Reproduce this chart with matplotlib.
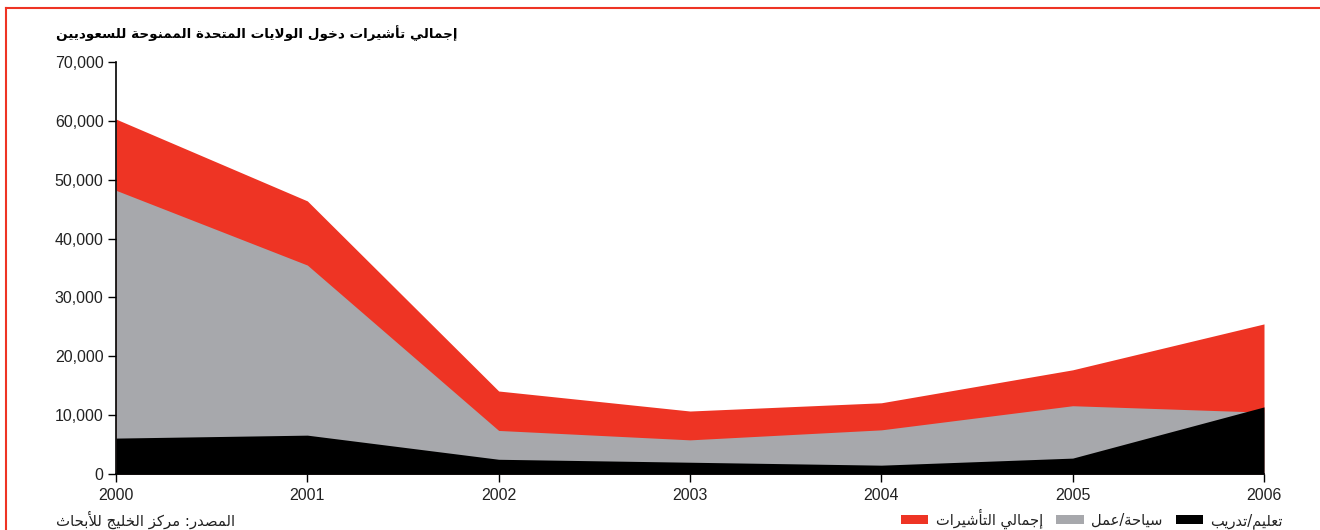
import matplotlib
matplotlib.use('Agg')
import matplotlib.pyplot as plt
from matplotlib.lines import Line2D
from matplotlib.ticker import FuncFormatter

# Datos
years = [2000, 2001, 2002, 2003, 2004, 2005, 2006]
total_visas = [60300, 46400, 14100, 10700, 12100, 17700, 25500]
tourism_work = [48200, 35500, 7400, 5800, 7500, 11600, 10500]
education_training = [6100, 6600, 2500, 2000, 1500, 2700, 11400]

title_txt = 'إجمالي تأشيرات دخول الولايات المتحدة الممنوحة للسعوديين'
source_txt = 'المصدر: مركز الخليج للأبحاث'
legend_labels = ['إجمالي التأشيرات', 'سياحة/عمل', 'تعليم/تدريب']

RED = '#EE3424'
GRAY = '#A7A8AC'
BLACK = '#000000'

# matplotlib no hace shaping del arabe: formas de presentacion a mano
# (aislada, final, inicial, medial); None = no une hacia la izquierda
FORMS = {
    '\u0621': (0xFE80, None, None, None),
    '\u0622': (0xFE81, 0xFE82, None, None),
    '\u0623': (0xFE83, 0xFE84, None, None),
    '\u0624': (0xFE85, 0xFE86, None, None),
    '\u0625': (0xFE87, 0xFE88, None, None),
    '\u0627': (0xFE8D, 0xFE8E, None, None),
    '\u0629': (0xFE93, 0xFE94, None, None),
    '\u062F': (0xFEA9, 0xFEAA, None, None),
    '\u0630': (0xFEAB, 0xFEAC, None, None),
    '\u0631': (0xFEAD, 0xFEAE, None, None),
    '\u0632': (0xFEAF, 0xFEB0, None, None),
    '\u0648': (0xFEED, 0xFEEE, None, None),
    '\u0649': (0xFEEF, 0xFEF0, None, None),
}
dual = {'\u0626': 0xFE89, '\u0628': 0xFE8F, '\u062A': 0xFE95, '\u062B': 0xFE99,
        '\u062C': 0xFE9D, '\u062D': 0xFEA1, '\u062E': 0xFEA5, '\u0633': 0xFEB1,
        '\u0634': 0xFEB5, '\u0635': 0xFEB9, '\u0636': 0xFEBD, '\u0637': 0xFEC1,
        '\u0638': 0xFEC5, '\u0639': 0xFEC9, '\u063A': 0xFECD, '\u0641': 0xFED1,
        '\u0642': 0xFED5, '\u0643': 0xFED9, '\u0644': 0xFEDD, '\u0645': 0xFEE1,
        '\u0646': 0xFEE5, '\u0647': 0xFEE9, '\u064A': 0xFEF1}
for ch, b in dual.items():
    FORMS[ch] = (b, b + 1, b + 2, b + 3)
LAM_ALEF = {'\u0622': (0xFEF5, 0xFEF6), '\u0623': (0xFEF7, 0xFEF8),
            '\u0625': (0xFEF9, 0xFEFA), '\u0627': (0xFEFB, 0xFEFC)}


def joins_left(ch):
    return ch in FORMS and FORMS[ch][2] is not None


def ar(text):
    # unir lam-alef primero
    chars = []
    i = 0
    while i < len(text):
        if text[i] == '\u0644' and i + 1 < len(text) and text[i + 1] in LAM_ALEF:
            chars.append(('LA', text[i + 1]))
            i += 2
        else:
            chars.append((text[i], None))
            i += 1
    out = []
    for k, (ch, extra) in enumerate(chars):
        prev = chars[k - 1][0] if k > 0 else ''
        nxt = chars[k + 1][0] if k + 1 < len(chars) else ''
        prev_joins = joins_left(prev)
        if ch == 'LA':
            iso, fin = LAM_ALEF[extra]
            out.append(chr(fin if prev_joins else iso))
            continue
        if ch not in FORMS:
            out.append(ch)
            continue
        iso, fin, ini, med = FORMS[ch]
        next_joins = (nxt in FORMS or nxt == 'LA') and ini is not None
        if prev_joins and next_joins:
            out.append(chr(med))
        elif prev_joins and fin is not None:
            out.append(chr(fin))
        elif next_joins:
            out.append(chr(ini))
        else:
            out.append(chr(iso))
    return ''.join(reversed(out))


plt.rcParams['font.family'] = ['Liberation Sans', 'DejaVu Sans']

fig = plt.figure(figsize=(13.2, 5.3), dpi=100)
ax = fig.add_axes([116 / 1320, 1 - 474 / 530, (1264 - 116) / 1320, (474 - 62) / 530])

ax.fill_between(years, total_visas, color=RED, lw=0, label=ar(legend_labels[0]))
ax.fill_between(years, tourism_work, color=GRAY, lw=0, label=ar(legend_labels[1]))
ax.fill_between(years, education_training, color=BLACK, lw=0, label=ar(legend_labels[2]))

ax.set_xlim(2000, 2006)
ax.set_ylim(0, 70000)
ax.set_xticks(years)
ax.set_yticks(range(0, 70001, 10000))
ax.yaxis.set_major_formatter(FuncFormatter(lambda v, p: f'{int(v):,}'))
ax.tick_params(direction='out', length=6, width=1, labelsize=11.5, color='black',
               labelcolor='#222222')
ax.tick_params(axis='x', pad=4)
ax.tick_params(axis='y', pad=3)
ax.spines['top'].set_visible(False)
ax.spines['right'].set_visible(False)
ax.spines['left'].set_linewidth(1.2)
ax.spines['bottom'].set_linewidth(1.2)

# Titulo y fuente
fig.text(457 / 1320, 1 - 33 / 530, ar(title_txt), ha='right', va='center',
         fontsize=9.7, fontweight='bold', family='DejaVu Sans')
fig.text(235 / 1320, 1 - 520 / 530, ar(source_txt), ha='right', va='center',
         fontsize=10.7, family='DejaVu Sans', color='#222222')

# Leyenda
handles, labels = ax.get_legend_handles_labels()
fig.legend(handles, labels, loc='center right', bbox_to_anchor=(1283 / 1320, 1 - 519 / 530),
           ncol=3, frameon=False, borderaxespad=0, borderpad=0,
           handlelength=1.9, handleheight=0.6, handletextpad=0.5, columnspacing=0.9,
           prop={'family': 'DejaVu Sans', 'size': 10.5}, labelcolor='#222222')

# Marco rojo (arriba e izquierda)
fig.add_artist(Line2D([6 / 1320, 1], [1 - 8 / 530, 1 - 8 / 530], color=RED, lw=1.5,
                      transform=fig.transFigure))
fig.add_artist(Line2D([6 / 1320, 6 / 1320], [0, 1 - 8 / 530], color=RED, lw=1.5,
                      transform=fig.transFigure))

fig.savefig('out.png', dpi=100)
